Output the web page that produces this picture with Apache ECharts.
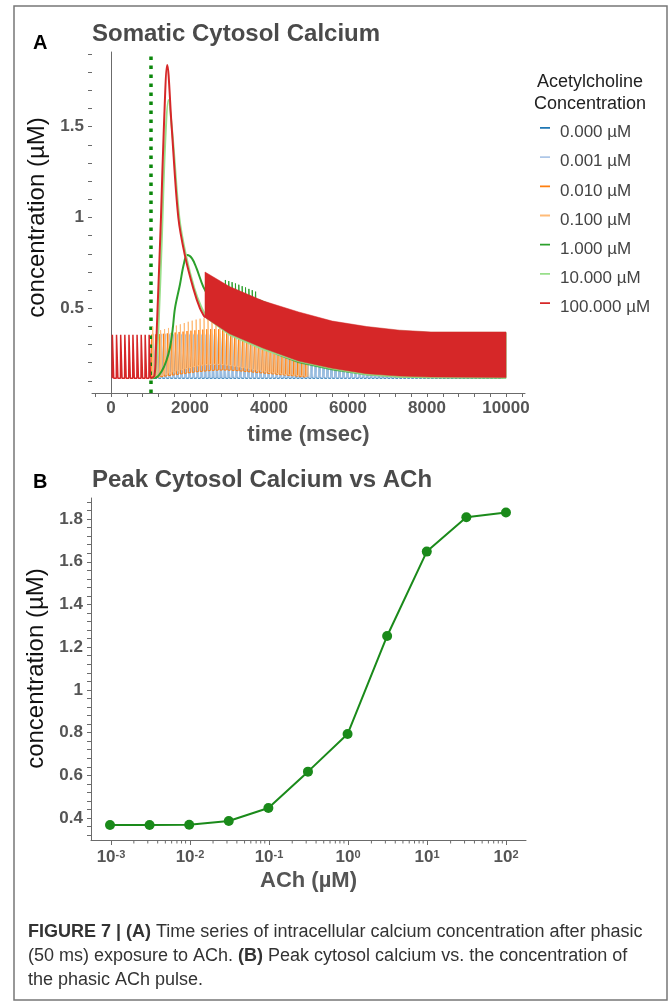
<!DOCTYPE html>
<html>
<head>
<meta charset="utf-8">
<script src="https://cdn.jsdelivr.net/npm/echarts@6/dist/echarts.min.js"></script>
<style>
    html, body { margin: 0; padding: 0; background: #fff; }
    #chart { width: 669px; height: 1005px; }
</style>
</head>
<body>
<div id="chart"></div>
<script>
// ---------- panel A : somatic cytosol calcium (µM) vs time (ms) ----------
const concNames = ['0.000 µM', '0.001 µM', '0.010 µM', '0.100 µM', '1.000 µM', '10.000 µM', '100.000 µM']
const concColors = ['#1f77b4', '#aec7e8', '#ff7f0e', '#ffbb78', '#2ca02c', '#98df8a', '#d62728']
const pulseTime = 1000

// resting spikes before the pulse (identical for every trace, only the top one shows)
const restSpikeTimes = [30, 135, 240, 345, 450, 550, 655, 760, 860, 960]
const restPeak = 0.355
const restTrough = 0.115
const spikePeriod = 100

// 0.000 µM keeps resting firing, 0.001 µM nearly so
const blueEnd = 9950
const lightBluePeak = 0.36
const lightBlueTrough = 0.12

// 0.010 µM, spikes every 100 ms from 1020 ms
const orangeStart = 1020
const orangePeaks = [0.355, 0.356, 0.358, 0.36, 0.362, 0.365, 0.367, 0.37, 0.372, 0.375,
    0.377, 0.379, 0.381, 0.383, 0.385, 0.386, 0.386, 0.385, 0.384, 0.382,
    0.38, 0.378, 0.376, 0.374, 0.372, 0.37, 0.368, 0.366, 0.364, 0.362,
    0.361, 0.36, 0.359, 0.358, 0.357, 0.357, 0.356, 0.356, 0.355, 0.355]
const orangeTroughs = [0.117, 0.12, 0.123, 0.126, 0.129, 0.132, 0.135, 0.138, 0.141, 0.144,
    0.147, 0.15, 0.152, 0.154, 0.156, 0.158, 0.159, 0.16, 0.16, 0.16,
    0.159, 0.158, 0.156, 0.154, 0.152, 0.15, 0.148, 0.146, 0.144, 0.142,
    0.14, 0.138, 0.136, 0.134, 0.132, 0.13, 0.128, 0.126, 0.124, 0.122]

// 0.100 µM, spikes every 100 ms from 1050 ms
const lightOrangeStart = 1050
const lightOrangePeaks = [0.40, 0.375, 0.38, 0.386, 0.392, 0.398, 0.405, 0.412, 0.419, 0.426,
    0.432, 0.438, 0.443, 0.446, 0.445, 0.442, 0.438, 0.433, 0.427, 0.421,
    0.415, 0.409, 0.403, 0.397, 0.392, 0.387, 0.382, 0.378, 0.374, 0.37,
    0.367, 0.364, 0.362, 0.36, 0.358, 0.357, 0.356, 0.356, 0.355, 0.355]
const lightOrangeTroughs = [0.12, 0.125, 0.13, 0.136, 0.142, 0.148, 0.154, 0.16, 0.166, 0.172,
    0.177, 0.182, 0.186, 0.189, 0.191, 0.192, 0.192, 0.191, 0.189, 0.186,
    0.183, 0.18, 0.176, 0.172, 0.168, 0.164, 0.16, 0.156, 0.152, 0.149,
    0.146, 0.143, 0.14, 0.137, 0.135, 0.133, 0.131, 0.129, 0.127, 0.125]

// 1.000 µM: smooth transient, then fast spikes
const greenTransient = [[1000, 0.115], [1150, 0.12], [1300, 0.16], [1400, 0.21], [1490, 0.28], [1560, 0.38],
    [1620, 0.5], [1745, 0.63], [1840, 0.74], [1930, 0.793], [2050, 0.775], [2167, 0.72],
    [2335, 0.62], [2500, 0.56], [2700, 0.525], [2890, 0.5]]
const greenSpikeStart = 2890
const greenSpikePeriod = 85
const greenSpikePeaks = [0.656, 0.65, 0.644, 0.637, 0.63, 0.622, 0.615, 0.607, 0.6, 0.592]
const greenSpikeTroughs = [0.49, 0.47, 0.45, 0.435, 0.42, 0.405, 0.39, 0.378, 0.366, 0.355]
const greenBandTimes = [3740, 4200, 4750, 5600, 6470, 7300, 8100, 10000]
const greenBandTop = [0.55, 0.51, 0.47, 0.425, 0.395, 0.375, 0.366, 0.365]
const greenBandBottom = [0.3, 0.245, 0.2, 0.16, 0.133, 0.122, 0.117, 0.115]

// 10.000 µM
const lightGreenTransient = [[1000, 0.115], [1100, 0.125], [1150, 0.2], [1200, 0.38], [1290, 0.9], [1370, 1.4],
    [1455, 1.647], [1560, 1.45], [1730, 1.0], [1900, 0.79], [2110, 0.61], [2280, 0.51], [2450, 0.44]]
const lightGreenBandTimes = [2450, 3000, 3860, 4750, 5600, 6470, 7300, 8100, 10000]
const lightGreenBandTop = [0.67, 0.6, 0.53, 0.47, 0.425, 0.395, 0.377, 0.368, 0.368]
const lightGreenBandBottom = [0.44, 0.35, 0.27, 0.205, 0.165, 0.133, 0.12, 0.116, 0.115]

// 100.000 µM
const redTransient = [[1000, 0.115], [1100, 0.13], [1140, 0.28], [1180, 0.5], [1266, 1.0], [1340, 1.5],
    [1425, 1.84], [1536, 1.5], [1705, 1.0], [1873, 0.79], [2084, 0.61], [2253, 0.5], [2380, 0.45]]
const redBandTimes = [2380, 3000, 3860, 4750, 5600, 6470, 7300, 8100, 10000]
const redBandTop = [0.70, 0.62, 0.54, 0.48, 0.43, 0.40, 0.38, 0.37, 0.37]
const redBandBottom = [0.45, 0.36, 0.28, 0.21, 0.17, 0.14, 0.127, 0.122, 0.12]

// ---------- panel B : peak cytosol calcium vs ACh ----------
const achConc = [0.001, 0.00316, 0.01, 0.0316, 0.1, 0.316, 1, 3.16, 10, 31.6, 100]
const peakCalcium = [0.367, 0.367, 0.368, 0.386, 0.447, 0.617, 0.793, 1.252, 1.647, 1.808, 1.83]

// ---------- helpers ----------
// sample times of a regular spike train
function spikeTimes(start, period, count) {
    let t = []
    for (let i = 0; i < count; i++) t.push(start + i * period)
    return t
}

// each spike: trough -> fast rise -> back to trough
function spikeTrain(times, peaks, troughs) {
    let pts = []
    for (let i = 0; i < times.length; i++) {
        let pk = Array.isArray(peaks) ? peaks[i] : peaks
        let tr = Array.isArray(troughs) ? troughs[i] : troughs
        pts.push([times[i], tr], [times[i] + 6, pk], [times[i] + 40, tr])
    }
    return pts
}

// z follows the concentration so the higher ones are drawn on top
function spikeSeries(idx, data, width) {
    return {
        name: concNames[idx], type: 'line', xAxisIndex: 0, yAxisIndex: 0, z: 2 + idx,
        data: data, showSymbol: false, silent: true,
        lineStyle: { color: concColors[idx], width: width || 1 },
        itemStyle: { color: concColors[idx] }
    }
}

function curveSeries(idx, data) {
    return {
        name: concNames[idx], type: 'line', xAxisIndex: 0, yAxisIndex: 0, z: 2 + idx,
        data: data, showSymbol: false, silent: true, smooth: 0.35,
        lineStyle: { color: concColors[idx], width: 2 },
        itemStyle: { color: concColors[idx] }
    }
}

// dense spiking drawn as filled band between trough and peak envelopes
function bandSeries(idx, times, tops, bottoms) {
    return {
        name: concNames[idx], type: 'custom', xAxisIndex: 0, yAxisIndex: 0, z: 2 + idx,
        data: times.map((t, i) => [t, tops[i], bottoms[i]]),
        encode: { x: 0, y: 1 }, silent: true,
        itemStyle: { color: concColors[idx] },
        renderItem: function (params, api) {
            if (params.dataIndex !== 0) return null
            let upper = times.map((t, i) => api.coord([t, tops[i]]))
            let lower = times.map((t, i) => api.coord([t, bottoms[i]])).reverse()
            return {
                type: 'polygon',
                shape: { points: upper.concat(lower) },
                style: { fill: concColors[idx], stroke: concColors[idx], lineWidth: 0.5 }
            }
        }
    }
}

const afterPulseTimes = spikeTimes(1065, spikePeriod, Math.floor((blueEnd - 1065) / spikePeriod) + 1)

// log minor tick positions for panel B x axis
let logMinorTicks = []
for (let e = -3; e < 2; e++) {
    for (let d = 2; d < 10; d++) logMinorTicks.push(d * Math.pow(10, e))
}

const font = 'Liberation Sans, Arial, Helvetica, sans-serif'
const tickLabel = { fontFamily: font, fontSize: 17, fontWeight: 'bold', color: '#555' }
const axisGray = '#6b6b6b'

let chart = echarts.init(document.getElementById('chart'))
chart.setOption({
    backgroundColor: '#fff',
    animation: false,
    textStyle: { fontFamily: font },
    grid: [
        // A data / axis lines
        { left: 92, top: 52, width: 433, height: 341 },
        // A x ticks
        { left: 95.2, top: 52, width: 426.6, height: 341 },
        // A y ticks
        { left: 92, top: 54.1, width: 433, height: 326.8 },
        // B data / axis lines
        { left: 91, top: 498, width: 435, height: 342 },
        // B x ticks (decades)
        { left: 111, top: 498, width: 395, height: 342 },
        // B y ticks
        { left: 91, top: 502, width: 435, height: 333.1 }
    ],
    xAxis: [
        {
            gridIndex: 0, type: 'value', min: -480, max: 10480,
            axisLine: { show: true, lineStyle: { color: axisGray } },
            axisTick: { show: false }, axisLabel: { show: false }, splitLine: { show: false }
        },
        {
            gridIndex: 1, type: 'value', min: -400, max: 10400, interval: 400,
            axisLine: { show: false },
            axisTick: { show: true, length: 4, lineStyle: { color: axisGray } },
            axisLabel: Object.assign({
                margin: 7,
                formatter: v => (v >= 0 && Math.abs(v % 2000) < 1e-6) ? String(v) : ''
            }, tickLabel),
            splitLine: { show: false },
            name: 'time (msec)', nameLocation: 'middle', nameGap: 31,
            nameTextStyle: { fontFamily: font, fontSize: 22, fontWeight: 'bold', color: '#555' }
        },
        { gridIndex: 2, type: 'value', show: false },
        {
            gridIndex: 3, type: 'log', min: Math.pow(10, -3.24), max: Math.pow(10, 2.253),
            axisLine: { show: true, lineStyle: { color: axisGray } },
            axisTick: { show: false }, axisLabel: { show: false }, splitLine: { show: false }
        },
        {
            gridIndex: 4, type: 'log', min: 0.001, max: 100,
            axisLine: { show: false },
            axisTick: { show: true, length: 5, lineStyle: { color: axisGray } },
            axisLabel: {
                margin: 9,
                formatter: v => '{b|10}{s|' + Math.round(Math.log(v) / Math.LN10) + '}',
                rich: {
                    b: { fontFamily: font, fontSize: 17, fontWeight: 'bold', color: '#555', verticalAlign: 'bottom' },
                    s: { fontFamily: font, fontSize: 11, fontWeight: 'bold', color: '#555', verticalAlign: 'top' }
                }
            },
            splitLine: { show: false },
            name: 'ACh (µM)', nameLocation: 'middle', nameGap: 30,
            nameTextStyle: { fontFamily: font, fontSize: 22, fontWeight: 'bold', color: '#555' }
        },
        { gridIndex: 5, type: 'value', show: false }
    ],
    yAxis: [
        {
            gridIndex: 0, type: 'value', min: 0.034, max: 1.911,
            axisLine: { show: true, lineStyle: { color: axisGray } },
            axisTick: { show: false }, axisLabel: { show: false }, splitLine: { show: false }
        },
        { gridIndex: 1, type: 'value', show: false },
        {
            gridIndex: 2, type: 'value', min: 0.1, max: 1.9, interval: 0.1,
            axisLine: { show: false },
            axisTick: { show: true, length: 4, lineStyle: { color: axisGray } },
            axisLabel: Object.assign({
                margin: 8,
                formatter: v => (Math.abs(v * 2 - Math.round(v * 2)) < 1e-6) ? String(Math.round(v * 10) / 10) : ''
            }, tickLabel),
            splitLine: { show: false },
            name: 'concentration (µM)', nameLocation: 'middle', nameGap: 35,
            nameTextStyle: { fontFamily: font, fontSize: 24, color: '#111' }
        },
        {
            gridIndex: 3, type: 'value', min: 0.297, max: 1.898,
            axisLine: { show: true, lineStyle: { color: axisGray } },
            axisTick: { show: false }, axisLabel: { show: false }, splitLine: { show: false }
        },
        { gridIndex: 4, type: 'value', show: false },
        {
            gridIndex: 5, type: 'value', min: 0.32, max: 1.88, interval: 0.04,
            axisLine: { show: false },
            axisTick: { show: true, length: 4, lineStyle: { color: axisGray } },
            axisLabel: Object.assign({
                margin: 8,
                formatter: v => (Math.abs(v * 5 - Math.round(v * 5)) < 1e-6) ? String(Math.round(v * 10) / 10) : ''
            }, tickLabel),
            splitLine: { show: false },
            name: 'concentration (µM)', nameLocation: 'middle', nameGap: 35,
            nameTextStyle: { fontFamily: font, fontSize: 24, color: '#111' }
        }
    ],
    legend: {
        data: concNames.map((n, i) => ({ name: n, itemStyle: { color: concColors[i], borderWidth: 0 } })),
        orient: 'vertical', left: 540, top: 124, padding: 0,
        itemWidth: 10, itemHeight: 11, itemGap: 12.2,
        icon: 'path://M0,0H10V1.8H0Z M0,11H0.01',
        lineStyle: { width: 0 },
        selectedMode: false,
        textStyle: { fontFamily: font, fontSize: 17, color: '#444', padding: [0, 0, 0, 5] }
    },
    series: [
        spikeSeries(0, spikeTrain(afterPulseTimes, restPeak, restTrough)),
        spikeSeries(1, spikeTrain(afterPulseTimes, lightBluePeak, lightBlueTrough)),
        spikeSeries(2, spikeTrain(spikeTimes(orangeStart, spikePeriod, orangePeaks.length), orangePeaks, orangeTroughs)),
        spikeSeries(3, spikeTrain(spikeTimes(lightOrangeStart, spikePeriod, lightOrangePeaks.length), lightOrangePeaks, lightOrangeTroughs)),
        curveSeries(4, greenTransient),
        spikeSeries(4, spikeTrain(spikeTimes(greenSpikeStart, greenSpikePeriod, greenSpikePeaks.length), greenSpikePeaks, greenSpikeTroughs)),
        bandSeries(4, greenBandTimes, greenBandTop, greenBandBottom),
        curveSeries(5, lightGreenTransient),
        bandSeries(5, lightGreenBandTimes, lightGreenBandTop, lightGreenBandBottom),
        spikeSeries(6, spikeTrain(restSpikeTimes, restPeak, restTrough), 1.5),
        curveSeries(6, redTransient),
        Object.assign(bandSeries(6, redBandTimes, redBandTop, redBandBottom), {
            // ACh pulse onset
            markLine: {
                silent: true, symbol: 'none', label: { show: false },
                lineStyle: { color: '#0b870b', width: 3.5, type: [3.5, 5.5], cap: 'butt' },
                data: [{ xAxis: pulseTime }]
            }
        }),
        // panel B
        {
            name: 'peak', type: 'line', xAxisIndex: 3, yAxisIndex: 3,
            data: achConc.map((c, i) => [c, peakCalcium[i]]),
            symbol: 'circle', symbolSize: 10, showSymbol: true,
            lineStyle: { color: '#1a8a1a', width: 2 },
            itemStyle: { color: '#1a8a1a' }
        },
        {
            type: 'custom', xAxisIndex: 3, yAxisIndex: 3, silent: true,
            data: logMinorTicks.map(v => [v, 0.297]),
            encode: { x: 0, y: 1 },
            renderItem: function (params, api) {
                let p = api.coord([api.value(0), 0.297])
                return {
                    type: 'line',
                    shape: { x1: p[0], y1: p[1], x2: p[0], y2: p[1] + 3.5 },
                    style: { stroke: axisGray, lineWidth: 1 }
                }
            }
        }
    ],
    graphic: [
        {
            type: 'rect', shape: { x: 14, y: 6, width: 653, height: 994 },
            style: { fill: 'none', stroke: '#777', lineWidth: 1.5 }, silent: true
        },
        { type: 'text', x: 33, y: 43, style: { text: 'A', font: 'bold 20px ' + font, fill: '#000', verticalAlign: 'middle', textVerticalAlign: 'middle' } },
        { type: 'text', x: 92, y: 34, style: { text: 'Somatic Cytosol Calcium', font: 'bold 24px ' + font, fill: '#4a4a4a', verticalAlign: 'middle', textVerticalAlign: 'middle' } },
        { type: 'text', x: 590, y: 82, style: { text: 'Acetylcholine', font: '18px ' + font, fill: '#222', align: 'center', textAlign: 'center', verticalAlign: 'middle', textVerticalAlign: 'middle' } },
        { type: 'text', x: 590, y: 104, style: { text: 'Concentration', font: '18px ' + font, fill: '#222', align: 'center', textAlign: 'center', verticalAlign: 'middle', textVerticalAlign: 'middle' } },
        { type: 'text', x: 33, y: 482, style: { text: 'B', font: 'bold 20px ' + font, fill: '#000', verticalAlign: 'middle', textVerticalAlign: 'middle' } },
        { type: 'text', x: 92, y: 480, style: { text: 'Peak Cytosol Calcium vs ACh', font: 'bold 24px ' + font, fill: '#4a4a4a', verticalAlign: 'middle', textVerticalAlign: 'middle' } },
        {
            type: 'text', x: 28, y: 920,
            style: {
                text: '{b|FIGURE 7 | (A)} Time series of intracellular calcium concentration after phasic\n' +
                    '(50 ms) exposure to ACh. {b|(B)} Peak cytosol calcium vs. the concentration of\n' +
                    'the phasic ACh pulse.',
                font: '18px ' + font, fill: '#333', lineHeight: 24,
                rich: { b: { fontFamily: font, fontSize: 18, fontWeight: 'bold', color: '#222', lineHeight: 24 } }
            }
        }
    ]
})
</script>
</body>
</html>
